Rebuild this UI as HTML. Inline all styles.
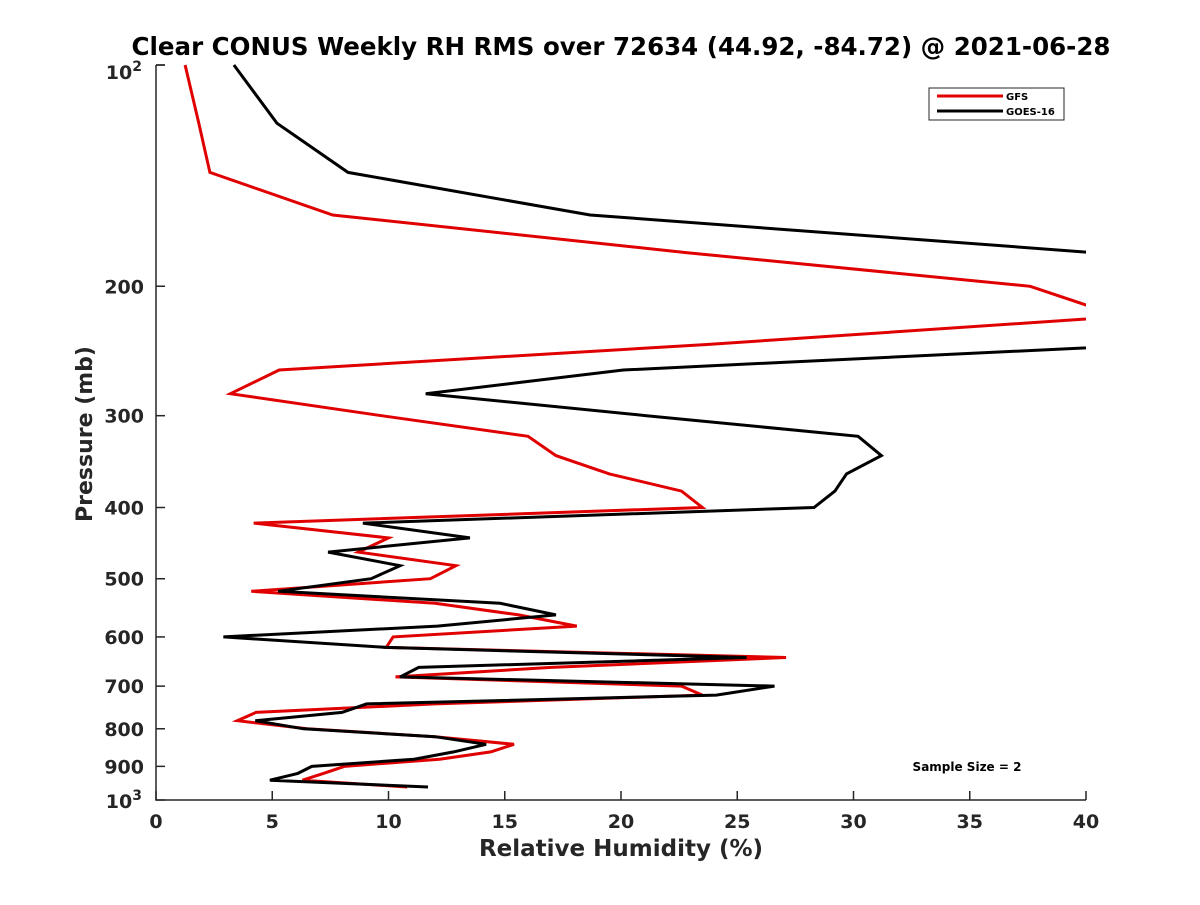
<!DOCTYPE html>
<html><head><meta charset="utf-8"><style>
body{margin:0;background:#fff;width:1200px;height:900px;overflow:hidden}
svg{font-family:"DejaVu Sans","Liberation Sans",sans-serif;font-weight:bold}
</style></head><body>
<svg id="chart" width="1200" height="900">
<text x="621" y="55" text-anchor="middle" font-size="24.5" fill="#000">Clear CONUS Weekly RH RMS over 72634 (44.92, -84.72) @ 2021-06-28</text>
<defs><clipPath id="plotclip"><rect x="156" y="60" width="930" height="740"/></clipPath></defs>
<g id="axes"></g>
<g id="lines" clip-path="url(#plotclip)"></g>
<g>
<rect x="929" y="88" width="135" height="32" fill="#fff" stroke="#262626" stroke-width="1"/>
<line x1="937" y1="96" x2="1003" y2="96" stroke="#e00000" stroke-width="3"/>
<text x="1006" y="100" font-size="10" fill="#000">GFS</text>
<line x1="937" y1="111" x2="1003" y2="111" stroke="#000" stroke-width="3"/>
<text x="1006" y="115" font-size="10" fill="#000">GOES-16</text>
</g>
<text x="967" y="771" text-anchor="middle" font-size="12" fill="#000">Sample Size = 2</text>
<text x="621" y="856" text-anchor="middle" font-size="23" fill="#262626">Relative Humidity (%)</text>
<text transform="translate(92,434) rotate(-90)" text-anchor="middle" font-size="22" fill="#262626">Pressure (mb)</text>
</svg>
<script>
const pressures=[100,120,140,160,180,200,220,240,260,280,300,320,340,360,380,400,420,440,460,480,500,520,540,560,580,600,620,640,660,680,700,720,740,760,780,800,820,840,860,880,900,920,940,960];
const gfsRH=[1.25,1.84,2.32,7.6,22.8,37.6,41.5,23.7,5.3,3.2,9.7,16,17.2,19.5,22.6,23.5,4.2,10.0,8.7,12.9,11.8,4.1,12.0,15.6,18.1,10.2,9.9,27.1,17,10.3,22.6,23.5,12,4.3,3.5,6.5,12.0,15.4,14.4,12.2,8.1,7.2,6.3,10.8];
const goesRH=[3.35,5.2,8.26,18.67,40.3,55,55,43,20.1,11.6,21.1,30.2,31.2,29.7,29.2,28.3,8.9,13.5,7.4,10.5,9.25,5.25,14.8,17.2,12.1,2.9,9.9,25.4,11.3,10.5,26.6,24.1,9.06,8.0,4.27,6.35,12.0,14.2,12.8,11.1,6.7,6.1,4.9,11.7];
const xTicks=[0,5,10,15,20,25,30,35,40];
const yTicks=[100,200,300,400,500,600,700,800,900,1000];
const yTickLabels=["","200","300","400","500","600","700","800","900",""];
const NS="http://www.w3.org/2000/svg";
const X0=156,X1=1086,Y0=65,Y1=800;
function xs(v){return X0+(v/40)*(X1-X0);}
function ys(p){return Y0+Math.log10(p/100)*(Y1-Y0);}
function mk(tag,attrs,parent){const e=document.createElementNS(NS,tag);for(const k in attrs)e.setAttribute(k,attrs[k]);parent.appendChild(e);return e;}
const axes=document.getElementById('axes');
let a=mk('path',{d:`M${X0} ${Y0}H${X0+9}M${X0} ${Y0}V${Y1}H${X1}`,fill:'none',stroke:'#262626','stroke-width':1.5},axes);


xTicks.forEach(t=>{
 const x=xs(t);
 const l=mk('line',{x1:x,y1:Y1,x2:x,y2:Y1-9,stroke:'#262626','stroke-width':1.5},axes);
 
 
 const tx=mk('text',{x:x,y:Y1+28,'text-anchor':'middle','font-size':19,fill:'#262626'},axes);
 tx.textContent=t;
 
 
});
yTicks.forEach((t,i)=>{
 const y=ys(t);
 const l=mk('line',{x1:X0,y1:y,x2:X0+9,y2:y,stroke:'#262626','stroke-width':1.5},axes);
 
 
 if(yTickLabels[i]){
  const tx=mk('text',{x:X0-12,y:y+7,'text-anchor':'end','font-size':19,fill:'#262626'},axes);
  tx.textContent=yTickLabels[i];
  
  
 }
});
[[100,"2"],[1000,"3"]].forEach(([p,e])=>{
 const tx=mk('text',{x:X0-14,y:ys(p)+(p===100?14:8),'text-anchor':'end','font-size':19,fill:'#262626'},axes);
 tx.innerHTML='10<tspan dy="-8" font-size="14">'+e+'</tspan>';
 
 
});
const lines=document.getElementById('lines');
function drawSeries(vals,color,name){
 const d=vals.map((v,i)=>(i?'L':'M')+xs(v).toFixed(1)+' '+ys(pressures[i]).toFixed(1)).join('');
 const p=mk('path',{d:d,fill:'none',stroke:color,'stroke-width':3,'stroke-linejoin':'miter'},lines);
 
 
}
drawSeries(gfsRH,'#e00000','gfs-line');
drawSeries(goesRH,'#000000','goes16-line');
</script>
</body></html>
